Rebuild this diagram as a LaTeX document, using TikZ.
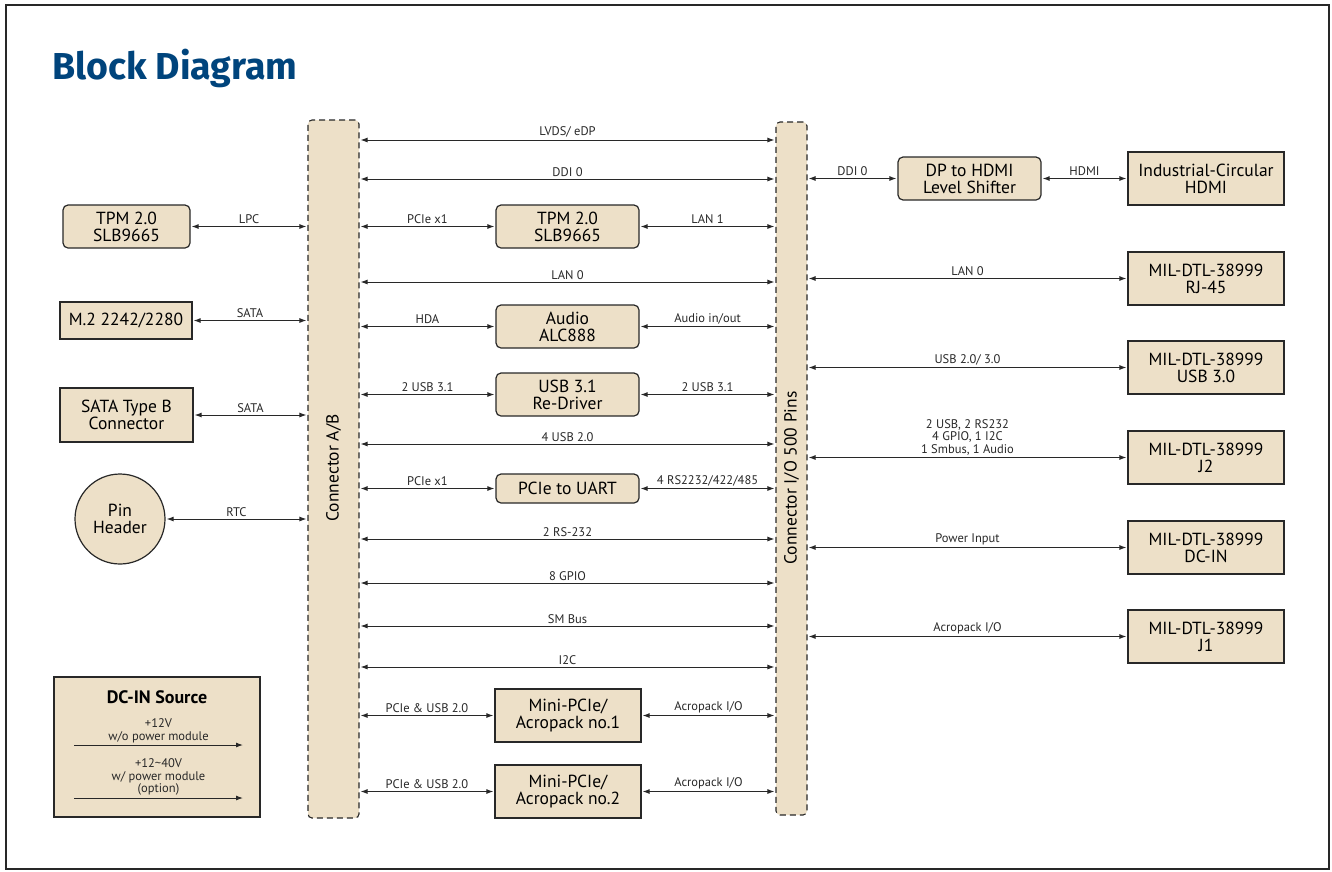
\documentclass[tikz,border=0pt]{standalone}
\usepackage{fontspec}
\setmainfont{PT Sans}
\newfontfamily\titlefont{Fira Sans}
\usetikzlibrary{arrows.meta}

\definecolor{boxfill}{RGB}{237,224,200}
\definecolor{lineclr}{RGB}{40,40,40}
\definecolor{titleblue}{RGB}{0,68,124}

\tikzset{
	blk/.style={draw=lineclr, line width=1.2pt, fill=boxfill, align=center, inner sep=0pt,
		font=\fontsize{17.5}{17}\selectfont},
	rblk/.style={blk, rounded corners=5pt},
	connbar/.style={draw=lineclr, line width=1.1pt, dash pattern=on 6pt off 4pt, fill=boxfill,
		rounded corners=4pt, inner sep=0pt},
	bus/.style={lineclr, line width=1pt, shorten <=1pt, shorten >=1pt,
		{Latex[length=7pt,width=5pt]}-{Latex[length=7pt,width=5pt]}},
	pwr/.style={lineclr, line width=1pt, -{Latex[length=7pt,width=5pt]}},
	lbl/.style={font=\fontsize{12.5}{12.5}\selectfont, anchor=south, inner sep=2pt, align=center},
}

\begin{document}
\begin{tikzpicture}[x=1pt, y=-1pt]
	\useasboundingbox (0,0) rectangle (1332,871);

	%% frame and title
	\draw[line width=2pt, lineclr] (6,5) rectangle (1329,869);
	\node[anchor=base west, inner sep=0pt, text=titleblue,
		font=\titlefont\bfseries\fontsize{37.5}{40}\selectfont] (title) at (52,79) {Block Diagram};

	%% the two connectors
	\node[connbar, minimum width=51pt, minimum height=698pt] (conAB) at (333.5,469) {};
	\node[rotate=90, font=\fontsize{17.5}{18}\selectfont] at (333.5,468) {Connector A/B};
	\node[connbar, minimum width=31pt, minimum height=693pt] (conIO) at (791.5,468.5) {};
	\node[rotate=90, font=\fontsize{17.5}{18}\selectfont] at (791.5,478) {Connector I/O 500 Pins};

	%% left column
	\node[rblk, minimum width=127pt, minimum height=43pt] (tpmL) at (126.5,226.5) {TPM 2.0\\SLB9665};
	\node[blk, minimum width=132pt, minimum height=37pt] (mdot) at (126,320.5) {M.2 2242/2280};
	\node[blk, minimum width=133pt, minimum height=54pt] (sataB) at (126.5,415) {SATA Type B\\Connector};
	\node[blk, circle, minimum size=90pt] (pinhdr) at (120,519) {Pin\\Header};
	\node[blk, minimum width=206pt, minimum height=140pt] (dcin) at (157,747) {};

	\draw[bus] (tpmL.east) -- node[lbl] {LPC} (conAB.west |- tpmL.east);
	\draw[bus] (mdot.east) -- node[lbl] {SATA} (conAB.west |- mdot.east);
	\draw[bus] (sataB.east) -- node[lbl] {SATA} (conAB.west |- sataB.east);
	\draw[bus] (pinhdr.east) -- node[lbl] {RTC} (conAB.west |- pinhdr.east);

	%% dc-in source
	\node[font=\bfseries\fontsize{18}{18}\selectfont] (dctitle) at (157,697) {DC-IN Source};
	\coordinate (p1s) at (74,745);
	\coordinate (p1e) at (243,745);
	\coordinate (p2s) at (74,798);
	\coordinate (p2e) at (243,798);
	\draw[pwr] (p1s) -- node[lbl] {+12V\\w/o power module} (p1e);
	\draw[pwr] (p2s) -- node[lbl] {+12\textasciitilde 40V\\w/ power module\\(option)} (p2e);

	%% middle column
	\node[rblk, minimum width=143pt, minimum height=43pt] (tpmM) at (567.5,226.5) {TPM 2.0\\SLB9665};
	\node[rblk, minimum width=143pt, minimum height=43pt] (audio) at (567.5,326.5) {Audio\\ALC888};
	\node[rblk, minimum width=143pt, minimum height=43pt] (redrv) at (567.5,394.5) {USB 3.1\\Re-Driver};
	\node[rblk, minimum width=143pt, minimum height=29pt] (uart) at (567.5,488.5) {PCIe to UART};
	\node[blk, minimum width=146pt, minimum height=53pt] (mpcie1) at (568,715.5) {Mini-PCIe/\\Acropack no.1};
	\node[blk, minimum width=146pt, minimum height=53pt] (mpcie2) at (568,791.5) {Mini-PCIe/\\Acropack no.2};

	%% straight buses
	\draw[bus] (conAB.east |- 0,140) -- node[lbl] {LVDS/ eDP} (conIO.west |- 0,140);
	\draw[bus] (conAB.east |- 0,179) -- node[lbl] {DDI 0} (conIO.west |- 0,179);
	\draw[bus] (conAB.east |- 0,282) -- node[lbl] {LAN 0} (conIO.west |- 0,282);
	\draw[bus] (conAB.east |- 0,444) -- node[lbl] {4 USB 2.0} (conIO.west |- 0,444);
	\draw[bus] (conAB.east |- 0,539) -- node[lbl] {2 RS-232} (conIO.west |- 0,539);
	\draw[bus] (conAB.east |- 0,583) -- node[lbl] {8 GPIO} (conIO.west |- 0,583);
	\draw[bus] (conAB.east |- 0,626) -- node[lbl] {SM Bus} (conIO.west |- 0,626);
	\draw[bus] (conAB.east |- 0,667) -- node[lbl] {I2C} (conIO.west |- 0,667);

	%% buses through the middle boxes
	\draw[bus] (conAB.east |- tpmM.west) -- node[lbl] {PCIe x1} (tpmM.west);
	\draw[bus] (tpmM.east) -- node[lbl] {LAN 1} (conIO.west |- tpmM.east);
	\draw[bus] (conAB.east |- audio.west) -- node[lbl] {HDA} (audio.west);
	\draw[bus] (audio.east) -- node[lbl] {Audio in/out} (conIO.west |- audio.east);
	\draw[bus] (conAB.east |- redrv.west) -- node[lbl] {2 USB 3.1} (redrv.west);
	\draw[bus] (redrv.east) -- node[lbl] {2 USB 3.1} (conIO.west |- redrv.east);
	\draw[bus] (conAB.east |- uart.west) -- node[lbl] {PCIe x1} (uart.west);
	\draw[bus] (uart.east) -- node[lbl] {4 RS2232/422/485} (conIO.west |- uart.east);
	\draw[bus] (conAB.east |- mpcie1.west) -- node[lbl] {PCIe \& USB 2.0} (mpcie1.west);
	\draw[bus] (mpcie1.east) -- node[lbl] {Acropack I/O} (conIO.west |- mpcie1.east);
	\draw[bus] (conAB.east |- mpcie2.west) -- node[lbl] {PCIe \& USB 2.0} (mpcie2.west);
	\draw[bus] (mpcie2.east) -- node[lbl] {Acropack I/O} (conIO.west |- mpcie2.east);

	%% right column
	\node[rblk, minimum width=143pt, minimum height=43pt] (dphdmi) at (969.5,178.5) {DP to HDMI\\Level Shifter};
	\node[blk, minimum width=156pt, minimum height=53pt] (hdmi) at (1206,178.5) {Industrial-Circular\\HDMI};
	\node[blk, minimum width=156pt, minimum height=53pt] (rjport) at (1206,278.5) {MIL-DTL-38999\\RJ-45};
	\node[blk, minimum width=156pt, minimum height=53pt] (usbport) at (1206,367.5) {MIL-DTL-38999\\USB 3.0};
	\node[blk, minimum width=156pt, minimum height=53pt] (jtwo) at (1206,457.5) {MIL-DTL-38999\\J2};
	\node[blk, minimum width=156pt, minimum height=53pt] (dcport) at (1206,547.5) {MIL-DTL-38999\\DC-IN};
	\node[blk, minimum width=156pt, minimum height=53pt] (jone) at (1206,636.5) {MIL-DTL-38999\\J1};

	\draw[bus] (conIO.east |- dphdmi.west) -- node[lbl] {DDI 0} (dphdmi.west);
	\draw[bus] (dphdmi.east) -- node[lbl] {HDMI} (hdmi.west);
	\draw[bus] (conIO.east |- rjport.west) -- node[lbl] {LAN 0} (rjport.west);
	\draw[bus] (conIO.east |- usbport.west) -- node[lbl] {USB 2.0/ 3.0} (usbport.west);
	\draw[bus] (conIO.east |- jtwo.west) -- node[lbl] {2 USB, 2 RS232\\4 GPIO, 1 I2C\\1 Smbus, 1 Audio} (jtwo.west);
	\draw[bus] (conIO.east |- dcport.west) -- node[lbl] {Power Input} (dcport.west);
	\draw[bus] (conIO.east |- jone.west) -- node[lbl] {Acropack I/O} (jone.west);
\end{tikzpicture}
\end{document}
